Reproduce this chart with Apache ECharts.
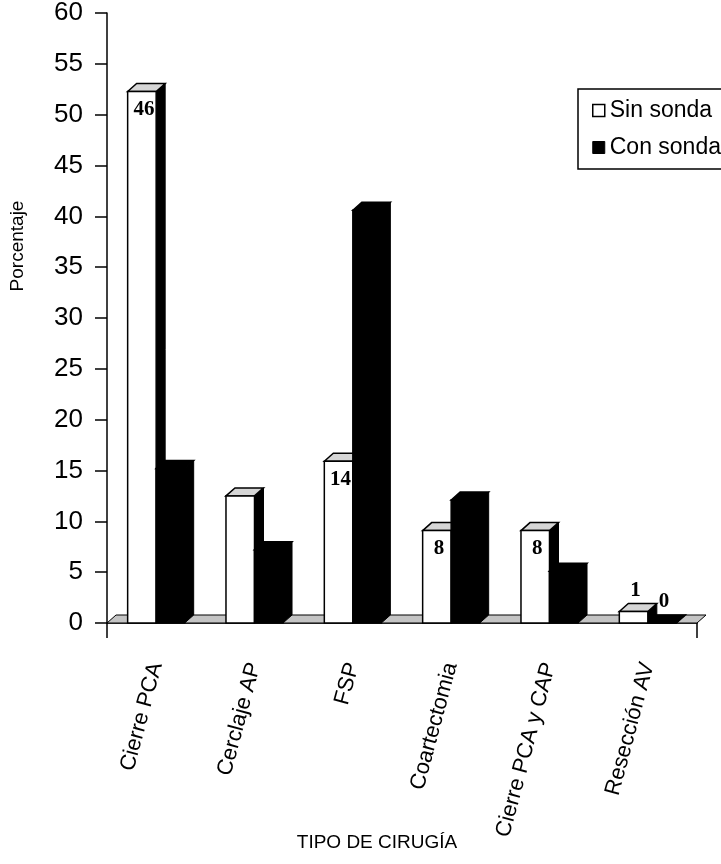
<!DOCTYPE html>
<html>
<head>
<meta charset="utf-8">
<script src="https://cdn.jsdelivr.net/npm/echarts@6/dist/echarts.min.js"></script>
<style>
  html, body { margin: 0; padding: 0; background: #fff; }
  #chart { width: 721px; height: 864px; }
</style>
</head>
<body>
<div id="chart"></div>
<script>
// Tipos de cirugía
const categorias = ['Cierre PCA', 'Cerclaje AP', 'FSP', 'Coartectomia', 'Cierre PCA y CAP', 'Resección AV'];

// Sin sonda: número de pacientes por cirugía (el porcentaje se calcula sobre el total)
const sinSondaN = [46, 11, 14, 8, 8, 1];
const sinSondaRotulo = [true, false, true, true, true, true];

// Con sonda: porcentaje de pacientes
const conSonda = [15.2, 7.2, 40.6, 12.1, 5.1, 0];
const conSondaRotulo = [false, false, false, false, false, true];

// Escala del eje vertical
const ejeY = { min: 0, max: 60, interval: 5 };

const totalSin = sinSondaN.reduce((a, b) => a + b, 0);
const sinSondaPct = sinSondaN.map(n => n / totalSin * 100);

// profundidad de la perspectiva de las columnas
const DX = 9, DY = 8;
const SANS = '"Liberation Sans", Arial, sans-serif';
const SERIF = '"Liberation Serif", "Times New Roman", serif';

function columna3d(lado, caras) {
  return function (params, api) {
    const i = api.value(0);
    const v = api.value(1);
    const base = api.coord([i, 0]);
    const cima = api.coord([i, v]);
    const banda = api.size([1, 0])[0];
    const w = banda * 0.29;
    const x0 = lado === 0 ? base[0] - w : base[0];
    const x1 = x0 + w;
    const yb = base[1];
    const yt = cima[1];
    const hijos = [
      { type: 'polygon', shape: { points: [[x1, yt], [x1 + DX, yt - DY], [x1 + DX, yb - DY], [x1, yb]] },
        style: { fill: caras.lado, stroke: '#000', lineWidth: 1 } },
      { type: 'polygon', shape: { points: [[x0, yt], [x0 + DX, yt - DY], [x1 + DX, yt - DY], [x1, yt]] },
        style: { fill: caras.cima, stroke: '#000', lineWidth: 1.5 } },
      { type: 'rect', shape: { x: x0, y: yt, width: w, height: yb - yt },
        style: { fill: caras.frente, stroke: '#000', lineWidth: 1.5 } }
    ];
    if (api.value(3)) {
      const dentro = (yb - yt) > 30;
      hijos.push({
        type: 'text',
        style: {
          text: String(api.value(2)),
          x: (x0 + x1) / 2 + 2,
          y: dentro ? yt + 18 : yt - 21,
          align: 'center',
          verticalAlign: 'middle',
          font: 'bold 21px ' + SERIF,
          fill: '#000'
        }
      });
    }
    return { type: 'group', children: hijos };
  };
}

// piso de la gráfica, detrás de las columnas
function piso(params, api) {
  const cs = params.coordSys;
  const yb = cs.y + cs.height;
  return {
    type: 'polygon',
    shape: { points: [[cs.x, yb], [cs.x + cs.width, yb], [cs.x + cs.width + DX, yb - DY], [cs.x + DX, yb - DY]] },
    style: { fill: '#c4c4c4', stroke: '#000', lineWidth: 1 }
  };
}

const chart = echarts.init(document.getElementById('chart'), null, { renderer: 'canvas' });

chart.setOption({
  animation: false,
  backgroundColor: '#fff',
  textStyle: { fontFamily: SANS, color: '#000' },
  grid: { left: 107, right: 24, top: 10, bottom: 241 },
  legend: {
    orient: 'vertical',
    left: 578,
    top: 89,
    itemWidth: 12,
    itemHeight: 12,
    itemGap: 14,
    padding: [10, 40, 10, 14],
    borderColor: '#000',
    borderWidth: 1.5,
    textStyle: { fontSize: 23, fontFamily: SANS, color: '#000' },
    data: [
      { name: 'Sin sonda', icon: 'rect', itemStyle: { color: '#fff', borderColor: '#000', borderWidth: 1.5 } },
      { name: 'Con sonda', icon: 'rect', itemStyle: { color: '#000', borderColor: '#000', borderWidth: 1 } }
    ]
  },
  xAxis: [
    {
      type: 'category',
      data: categorias,
      boundaryGap: true,
      axisLine: { lineStyle: { color: '#000', width: 1.5 } },
      axisTick: { alignWithLabel: true, length: 15, lineStyle: { color: '#000', width: 1.5 } },
      axisLabel: { rotate: 75, margin: 40, fontSize: 22, color: '#000', fontFamily: SANS }
    },
    {
      type: 'category',
      data: categorias,
      position: 'bottom',
      boundaryGap: true,
      axisLine: { show: false },
      axisLabel: { show: false },
      axisTick: { show: true, interval: (idx) => idx === 0, length: 15, lineStyle: { color: '#000', width: 1.5 } }
    }
  ],
  yAxis: {
    type: 'value',
    min: ejeY.min,
    max: ejeY.max,
    interval: ejeY.interval,
    axisLine: { show: true, lineStyle: { color: '#000', width: 1.5 } },
    axisTick: { show: true, length: 12, lineStyle: { color: '#000', width: 1.5 } },
    axisLabel: { fontSize: 26, margin: 24, color: '#000', fontFamily: SANS },
    splitLine: { show: false }
  },
  graphic: [
    {
      type: 'text',
      x: 18,
      y: 246,
      rotation: Math.PI / 2,
      style: { text: 'Porcentaje', font: '19px ' + SANS, fill: '#000', align: 'center', verticalAlign: 'middle' }
    },
    {
      type: 'text',
      x: 377,
      y: 843,
      style: { text: 'TIPO DE CIRUGÍA', font: '19px ' + SANS, fill: '#000', align: 'center', verticalAlign: 'middle' }
    }
  ],
  series: [
    {
      type: 'custom',
      z: 1,
      silent: true,
      renderItem: piso,
      data: [[0, 0]]
    },
    {
      name: 'Sin sonda',
      type: 'custom',
      z: 2,
      renderItem: columna3d(0, { frente: '#fff', cima: '#d6d6d6', lado: '#000' }),
      encode: { x: 0, y: 1 },
      data: categorias.map((c, i) => [i, sinSondaPct[i], sinSondaN[i], sinSondaRotulo[i] ? 1 : 0])
    },
    {
      name: 'Con sonda',
      type: 'custom',
      z: 2,
      renderItem: columna3d(1, { frente: '#000', cima: '#000', lado: '#000' }),
      encode: { x: 0, y: 1 },
      data: categorias.map((c, i) => [i, conSonda[i], conSonda[i], conSondaRotulo[i] ? 1 : 0])
    }
  ]
});
</script>
</body>
</html>
